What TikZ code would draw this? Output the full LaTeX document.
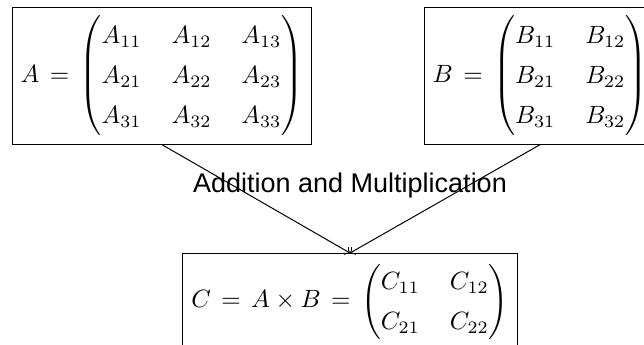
\documentclass[tikz,border=0pt]{standalone}
\usepackage{amsmath}
\usepackage{fontspec}
\newfontfamily\labelfont{Liberation Sans}
\renewcommand{\arraystretch}{1.33}
\setlength{\arraycolsep}{6pt}
\thickmuskip=7.5mu plus 5mu
\begin{document}
\begin{tikzpicture}[x=0.4pt,y=-0.4pt,
  matbox/.style={draw,anchor=north,inner sep=3.333pt},
  oplabel/.style={font=\labelfont\fontsize{10.8}{13}\selectfont}]
  \clip (0,0) rectangle (644,345);
  \node[matbox] (A) at (162,7)
    {$A = \begin{pmatrix} A_{11} & A_{12} & A_{13}\\ A_{21} & A_{22} & A_{23}\\ A_{31} & A_{32} & A_{33} \end{pmatrix}$};
  \node[matbox] (B) at (540,7)
    {$B = \begin{pmatrix} B_{11} & B_{12}\\ B_{21} & B_{22}\\ B_{31} & B_{32} \end{pmatrix}$};
  \node[matbox] (C) at (350,253)
    {$C = A \times B = \begin{pmatrix} C_{11} & C_{12}\\ C_{21} & C_{22} \end{pmatrix}$};
  \draw[->] (A.south) -- (C.north);
  \draw[->] (B.south) -- (C.north);
  \node[oplabel] (op) at (350,186) {Addition and Multiplication};
\end{tikzpicture}
\end{document}
